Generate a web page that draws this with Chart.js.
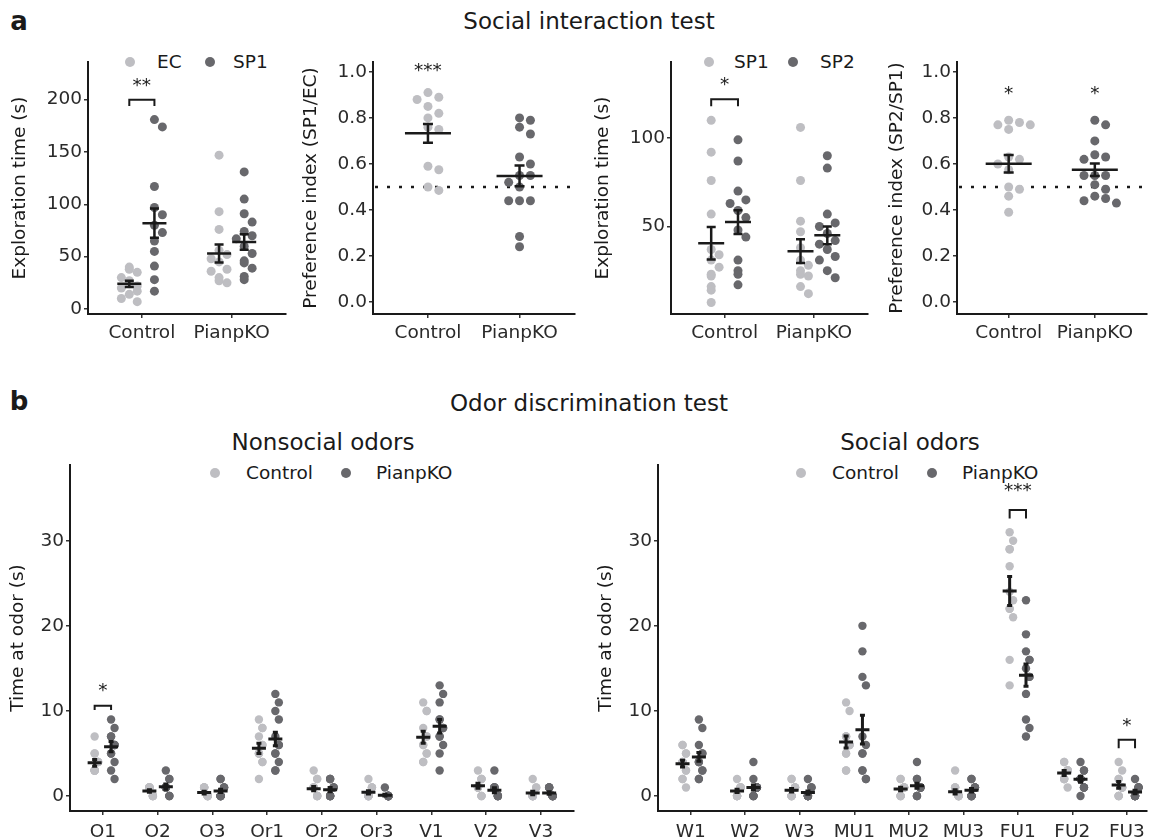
<!DOCTYPE html>
<html><head><meta charset="utf-8">
<script src="https://cdn.jsdelivr.net/npm/chart.js@4.4.1/dist/chart.umd.min.js"></script>
<style>
body{margin:0;background:#fff;width:1151px;height:837px;position:relative;overflow:hidden;font-family:'DejaVu Sans',sans-serif;color:#1a1a1a}
canvas{position:absolute}
.t{position:absolute;white-space:nowrap;transform:translate(-50%,-50%);line-height:1}
.lt{position:absolute;white-space:nowrap;transform:translateY(-50%);font-size:18.5px;line-height:1;color:#1a1a1a}
.dot{position:absolute;width:10px;height:10px;border-radius:50%;transform:translate(-50%,-50%)}
</style></head><body>
<div class="t" style="left:19px;top:21px;font-weight:bold;font-size:26px">a</div>
<div class="t" style="left:589px;top:21px;font-size:23px">Social interaction test</div>
<div class="t" style="left:19px;top:401px;font-weight:bold;font-size:26px">b</div>
<div class="t" style="left:589px;top:403px;font-size:23px">Odor discrimination test</div>
<div class="t" style="left:323px;top:442px;font-size:23px">Nonsocial odors</div>
<div class="t" style="left:910px;top:442px;font-size:23px">Social odors</div>

<div class="dot" style="left:130px;top:62px;background:#bebec2"></div><div class="lt" style="left:157px;top:62px">EC</div>
<div class="dot" style="left:210px;top:62px;background:#68686c"></div><div class="lt" style="left:233px;top:62px">SP1</div>
<div class="dot" style="left:709px;top:62px;background:#bebec2"></div><div class="lt" style="left:734px;top:62px">SP1</div>
<div class="dot" style="left:793px;top:62px;background:#68686c"></div><div class="lt" style="left:820px;top:62px">SP2</div>
<div class="dot" style="left:215px;top:473px;background:#bebec2"></div><div class="lt" style="left:246px;top:473px">Control</div>
<div class="dot" style="left:346px;top:473px;background:#68686c"></div><div class="lt" style="left:376px;top:473px">PianpKO</div>
<div class="dot" style="left:801px;top:473px;background:#bebec2"></div><div class="lt" style="left:832px;top:473px">Control</div>
<div class="dot" style="left:932px;top:473px;background:#68686c"></div><div class="lt" style="left:962px;top:473px">PianpKO</div>

<canvas id="a1"></canvas><canvas id="a2"></canvas><canvas id="a3"></canvas><canvas id="a4"></canvas>
<canvas id="b1"></canvas><canvas id="b2"></canvas>
<script>
// ---------- DATA ----------
const groupsA = ['Control', 'PianpKO'];
// a1: exploration time EC vs SP1
const a1_EC_Control  = [40, 38, 35, 30, 27, 24, 22, 20, 17, 14, 10, 7];
const a1_EC_PianpKO  = [147, 93, 76, 56, 52, 48, 45, 38, 36, 30, 27, 25];
const a1_SP1_Control = [181, 174, 117, 97, 90, 80, 73, 65, 55, 41, 28, 17];
const a1_SP1_PianpKO = [131, 105, 91, 83, 74, 70, 67, 60, 53, 46, 44, 39, 31, 28];
const a1_EC_mean = [24, 53],  a1_EC_sem = [3, 8.5];
const a1_SP1_mean = [82, 64], a1_SP1_sem = [14, 7.5];
const a1_yTicks = [0, 50, 100, 150, 200];
const a1_signif = [{cat: 1, label: '**', y: 216, bracket: [200, 194]}];
// a2: preference index SP1/EC
const a2_Control = [0.91, 0.89, 0.88, 0.85, 0.82, 0.80, 0.76, 0.75, 0.59, 0.575, 0.50, 0.485];
const a2_PianpKO = [0.80, 0.79, 0.76, 0.73, 0.63, 0.60, 0.55, 0.55, 0.52, 0.50, 0.44, 0.44, 0.44, 0.285, 0.24];
const a2_mean = [0.733, 0.548], a2_sem = [0.041, 0.045];
const prefTicks = [0, 0.2, 0.4, 0.6, 0.8, 1.0];
const a2_signif = [{cat: 1, label: '***', y: 1.02}];
// a3: exploration time SP1 vs SP2
const a3_SP1_Control = [110, 92, 76, 57, 37, 34, 31, 27, 23, 22, 16, 14, 7];
const a3_SP2_Control = [99, 87, 70, 65, 63, 59, 55, 48, 44, 31, 25, 23, 17];
const a3_SP1_PianpKO = [106, 76, 53, 47, 38, 31, 28, 25, 23, 22, 16, 12];
const a3_SP2_PianpKO = [90, 83, 57, 52, 50, 46, 42, 40, 37, 33, 31, 25, 21];
const a3_SP1_mean = [40.5, 36], a3_SP1_sem = [9.2, 6.7];
const a3_SP2_mean = [52.5, 45], a3_SP2_sem = [6.7, 5];
const a3_yTicks = [50, 100];
const a3_signif = [{cat: 1, label: '*', y: 132, bracket: [122, 118]}];
// a4: preference index SP2/SP1
const a4_Control = [0.79, 0.78, 0.77, 0.77, 0.75, 0.63, 0.62, 0.60, 0.575, 0.50, 0.49, 0.46, 0.39];
const a4_PianpKO = [0.79, 0.77, 0.70, 0.64, 0.63, 0.62, 0.55, 0.55, 0.55, 0.51, 0.49, 0.46, 0.45, 0.44, 0.43];
const a4_mean = [0.601, 0.575], a4_sem = [0.038, 0.027];
const a4_signif = [{cat: 1, label: '*', y: 0.917}, {cat: 2, label: '*', y: 0.917}];
// b1: nonsocial odors
const b1_odors = ['O1', 'O2', 'O3', 'Or1', 'Or2', 'Or3', 'V1', 'V2', 'V3'];
const b1_Control = [
  [7,5,5,4,4,4,3,3,3,3,3,3], [1,1,1,1,1,1,1,0,0,0,0,0], [1,1,1,1,1,0,0,0,0,0,0,0],
  [9,8,8,7,6,6,5,5,5,4,4,2], [3,2,2,1,1,1,1,0,0,0,0,0], [2,1,1,1,0,0,0,0,0,0,0,0],
  [11,10,10,8,7,7,6,6,5,5,4,4], [3,2,2,2,1,1,1,1,1,0,0,0], [2,1,1,0,0,0,0,0,0,0,0,0]];
const b1_PianpKO = [
  [9,8,7,7,6,6,6,5,5,4,3,2], [3,2,2,1,1,1,1,1,1,0,0,0], [2,2,1,1,1,0,0,0,0,0,0,0],
  [12,11,10,9,7,6,6,5,5,4,3,3], [2,2,2,1,1,1,0,0,0,0,0,0], [1,0,0,0,0,0,0,0,0,0,0,0],
  [13,12,11,9,9,8,8,7,7,6,5,3], [3,1,1,1,1,1,0,0,0,0,0,0], [1,1,1,1,0,0,0,0,0,0,0,0]];
const b1_Control_mean = [3.9, 0.6, 0.4, 5.6, 0.86, 0.43, 6.9, 1.2, 0.35];
const b1_Control_sem  = [0.4, 0.15, 0.15, 0.6, 0.25, 0.2, 0.7, 0.3, 0.2];
const b1_PianpKO_mean = [5.8, 1.1, 0.6, 6.7, 0.75, 0.1, 8.2, 0.67, 0.35];
const b1_PianpKO_sem  = [0.6, 0.3, 0.2, 0.8, 0.25, 0.1, 0.8, 0.3, 0.15];
const b1_signif = [{cat: 1, label: '*', y: 12.7, bracket: [10.6, 10.1]}];
// b2: social odors
const b2_odors = ['W1', 'W2', 'W3', 'MU1', 'MU2', 'MU3', 'FU1', 'FU2', 'FU3'];
const b2_Control = [
  [6,6,5,5,4,4,4,3,3,2,2,1], [2,1,1,1,1,1,0,0,0,0,0,0], [2,2,1,1,1,1,0,0,0,0,0,0],
  [11,10,7,7,7,6,6,6,5,5,3,3], [2,2,1,1,1,1,1,1,0,0,0,0], [3,1,1,1,0,0,0,0,0,0,0,0],
  [31,30,29,29,27,24,23,22,22,21,16,13], [4,4,3,3,3,3,3,2,2,2,2,1], [4,3,2,2,1,1,1,1,0,0,0,0]];
const b2_PianpKO = [
  [9,8,6,5,5,4,4,4,3,3,2,2], [4,2,1,1,1,1,1,1,0,0,0,0], [2,1,1,1,0,0,0,0,0,0,0,0],
  [20,17,14,13,7,6,5,5,3,3,2,2], [4,2,2,1,1,1,1,1,1,0,0,0], [2,2,1,1,1,1,0,0,0,0,0,0],
  [23,19,17,16,16,15,14,14,12,9,8,7], [4,3,3,2,2,2,2,2,1,1,1,0], [2,1,1,1,1,0,0,0,0,0,0,0]];
const b2_Control_mean = [3.8, 0.6, 0.67, 6.35, 0.82, 0.5, 24.1, 2.7, 1.3];
const b2_Control_sem  = [0.4, 0.2, 0.2, 0.7, 0.2, 0.25, 1.7, 0.3, 0.4];
const b2_PianpKO_mean = [4.6, 1.0, 0.4, 7.8, 1.2, 0.67, 14.2, 1.96, 0.47];
const b2_PianpKO_sem  = [0.5, 0.3, 0.2, 1.7, 0.3, 0.2, 1.3, 0.35, 0.2];
const b2_signif = [{cat: 7, label: '***', y: 36.2, bracket: [33.6, 32.6]}, {cat: 9, label: '*', y: 8.6, bracket: [6.6, 5.6]}];
const bTicks = [0, 10, 20, 30];

// ---------- STYLE ----------
const LIGHT = '#bebec2', DARK = '#68686c', INK = '#1a1a1a';
Chart.defaults.font.family = "'DejaVu Sans'";
Chart.defaults.font.size = 18.5;
Chart.defaults.color = '#2a2a2a';

function swarm(vals, pxY, step, D, maxK) {
  const idx = vals.map((v, i) => i).sort((a, b) => vals[b] - vals[a]);
  const placed = [], off = new Array(vals.length).fill(0);
  const order = [0]; for (let k = 1; k <= maxK; k++) order.push(k, -k);
  for (const i of idx) {
    const y = vals[i] * pxY;
    let best = 0, bestC = Infinity;
    for (const k of order) {
      let c = 0;
      for (const p of placed) { const dx = (k - p.k) * step, dy = y - p.y; if (dx * dx + dy * dy < D * D) c++; }
      if (c === 0) { best = k; bestC = 0; break; }
      if (c < bestC) { bestC = c; best = k; }
    }
    placed.push({k: best, y}); off[i] = best * step;
  }
  return off;
}

function overlay(p) {
  return {
    id: 'ov',
    beforeDatasetsDraw(chart) {
      if (p.refLine == null) return;
      const {ctx, chartArea: a, scales: {y}} = chart;
      const py = y.getPixelForValue(p.refLine);
      ctx.save(); ctx.strokeStyle = INK; ctx.lineWidth = 2.5; ctx.setLineDash([3, 9]);
      ctx.beginPath(); ctx.moveTo(a.left + 2, py); ctx.lineTo(a.right, py); ctx.stroke(); ctx.restore();
    },
    afterDatasetsDraw(chart) {
      const {ctx, scales: {x, y}} = chart;
      ctx.save(); ctx.strokeStyle = INK; ctx.lineWidth = p.lw;
      p.groups.forEach(g => {
        g.mean.forEach((m, i) => {
          if (m == null) return;
          const cx = x.getPixelForValue(i + 1 + g.dodge);
          const pm = y.getPixelForValue(m), lo = y.getPixelForValue(m - g.sem[i]), hi = y.getPixelForValue(m + g.sem[i]);
          ctx.beginPath();
          ctx.moveTo(cx - p.meanHalf, pm); ctx.lineTo(cx + p.meanHalf, pm);
          ctx.moveTo(cx, lo); ctx.lineTo(cx, hi);
          ctx.moveTo(cx - p.capHalf, lo); ctx.lineTo(cx + p.capHalf, lo);
          ctx.moveTo(cx - p.capHalf, hi); ctx.lineTo(cx + p.capHalf, hi);
          ctx.stroke();
        });
      });
      ctx.lineWidth = 2; ctx.fillStyle = INK; ctx.font = "18.5px 'DejaVu Sans'"; ctx.textAlign = 'center'; ctx.textBaseline = 'alphabetic';
      p.signif.forEach(s => {
        const cx = x.getPixelForValue(s.cat);
        if (s.bracket) {
          const xl = x.getPixelForValue(s.cat - p.dodge), xr = x.getPixelForValue(s.cat + p.dodge);
          const t = y.getPixelForValue(s.bracket[0]), b = y.getPixelForValue(s.bracket[1]);
          ctx.beginPath(); ctx.moveTo(xl, b); ctx.lineTo(xl, t); ctx.lineTo(xr, t); ctx.lineTo(xr, b); ctx.stroke();
        }
        const mt = ctx.measureText(s.label);
        const py = y.getPixelForValue(s.y);
        ctx.fillText(s.label, cx, py + (mt.actualBoundingBoxAscent - mt.actualBoundingBoxDescent) / 2);
      });
      ctx.restore();
    }
  };
}

function panel(c) {
  const cv = document.getElementById(c.id);
  cv.width = c.box.width; cv.height = c.box.height;
  cv.style.left = c.box.left + 'px'; cv.style.top = c.box.top + 'px';
  cv.style.width = c.box.width + 'px'; cv.style.height = c.box.height + 'px';
  const a = c.area;
  const pxY = (a.b - a.t) / (c.yMax - c.yMin);
  const pxX = (a.r - a.l) / (c.xMax - 0.4);
  const datasets = c.groups.map(g => {
    const pts = [];
    g.values.forEach((vals, i) => {
      const off = swarm(vals, pxY, c.swarm.step, c.swarm.D, c.swarm.maxK);
      vals.forEach((v, j) => pts.push({x: i + 1 + g.dodge + off[j] / pxX, y: v}));
    });
    return {data: pts, backgroundColor: g.color, borderWidth: 0, pointRadius: c.radius, pointHoverRadius: c.radius};
  });
  const gridOpt = {display: true, drawOnChartArea: false, drawTicks: true, tickLength: 4, color: '#333', lineWidth: 1.5};
  const borderOpt = {display: true, color: INK, width: 2};
  new Chart(cv, {
    type: 'scatter',
    data: {datasets},
    options: {
      animation: false, responsive: false, devicePixelRatio: 1,
      events: [],
      layout: {padding: {left: 0, top: a.t - c.box.top, right: c.box.left + c.box.width - a.r, bottom: 0}},
      plugins: {legend: {display: false}, tooltip: {enabled: false}},
      scales: {
        x: {
          type: 'linear', min: 0.4, max: c.xMax,
          afterBuildTicks: s => { s.ticks = c.cats.map((_, i) => ({value: i + 1})); },
          afterFit: s => { s.height = c.box.top + c.box.height - a.b; },
          ticks: {autoSkip: false, maxRotation: 0, minRotation: 0, padding: c.xPad, callback: v => c.cats[Math.round(v) - 1]},
          grid: gridOpt, border: borderOpt
        },
        y: {
          type: 'linear', min: c.yMin, max: c.yMax,
          afterBuildTicks: s => { s.ticks = c.yTicks.map(v => ({value: v})); },
          afterFit: s => { s.width = a.l - c.box.left; },
          ticks: {padding: 2, callback: c.yFmt},
          grid: gridOpt, border: borderOpt,
          title: {display: true, text: c.yTitle, color: INK, padding: {top: c.titlePad, bottom: 0}, font: {size: 18.5}}
        }
      }
    },
    plugins: [overlay({groups: c.groups, meanHalf: c.meanHalf, capHalf: c.capHalf, lw: c.lw, dodge: c.dodge, signif: c.signif, refLine: c.refLine})]
  });
}

const intFmt = v => String(v);
const decFmt = v => v.toFixed(1);

panel({id: 'a1', box: {left: 0, top: 48, width: 290, height: 300}, area: {l: 88, t: 62, r: 287, b: 314},
  cats: groupsA, xMax: 2.6, xPad: 4, yMin: -4.8, yMax: 236, yTicks: a1_yTicks, yFmt: intFmt,
  yTitle: 'Exploration time (s)', titlePad: 9, radius: 4.5, swarm: {step: 8, D: 9, maxK: 1},
  meanHalf: 12, capHalf: 4.5, lw: 2.5, dodge: 0.14, signif: a1_signif,
  groups: [
    {color: LIGHT, dodge: -0.14, values: [a1_EC_Control, a1_EC_PianpKO], mean: a1_EC_mean, sem: a1_EC_sem},
    {color: DARK, dodge: 0.14, values: [a1_SP1_Control, a1_SP1_PianpKO], mean: a1_SP1_mean, sem: a1_SP1_sem}]});

panel({id: 'a2', box: {left: 290, top: 48, width: 289, height: 300}, area: {l: 373, t: 62, r: 577, b: 314},
  cats: groupsA, xMax: 2.6, xPad: 4, yMin: -0.052, yMax: 1.043, yTicks: prefTicks, yFmt: decFmt,
  yTitle: 'Preference index (SP1/EC)', titlePad: 10, radius: 4.5, swarm: {step: 11, D: 9, maxK: 2},
  meanHalf: 23, capHalf: 5, lw: 2.5, dodge: 0, signif: a2_signif, refLine: 0.5,
  groups: [
    {color: LIGHT, dodge: 0, values: [a2_Control, []], mean: [a2_mean[0], null], sem: [a2_sem[0], 0]},
    {color: DARK, dodge: 0, values: [[], a2_PianpKO], mean: [null, a2_mean[1]], sem: [0, a2_sem[1]]}]});

panel({id: 'a3', box: {left: 580, top: 48, width: 292, height: 300}, area: {l: 671, t: 62, r: 870, b: 314},
  cats: groupsA, xMax: 2.6, xPad: 4, yMin: 0.5, yMax: 143, yTicks: a3_yTicks, yFmt: intFmt,
  yTitle: 'Exploration time (s)', titlePad: 12, radius: 4.5, swarm: {step: 8, D: 9, maxK: 1},
  meanHalf: 13, capHalf: 4.5, lw: 2.5, dodge: 0.15, signif: a3_signif,
  groups: [
    {color: LIGHT, dodge: -0.15, values: [a3_SP1_Control, a3_SP1_PianpKO], mean: a3_SP1_mean, sem: a3_SP1_sem},
    {color: DARK, dodge: 0.15, values: [a3_SP2_Control, a3_SP2_PianpKO], mean: a3_SP2_mean, sem: a3_SP2_sem}]});

panel({id: 'a4', box: {left: 872, top: 48, width: 279, height: 300}, area: {l: 957, t: 62, r: 1150, b: 314},
  cats: groupsA, xMax: 2.6, xPad: 4, yMin: -0.052, yMax: 1.043, yTicks: prefTicks, yFmt: decFmt,
  yTitle: 'Preference index (SP2/SP1)', titlePad: 14, radius: 4.5, swarm: {step: 11, D: 9, maxK: 2},
  meanHalf: 23, capHalf: 5, lw: 2.5, dodge: 0, signif: a4_signif, refLine: 0.5,
  groups: [
    {color: LIGHT, dodge: 0, values: [a4_Control, []], mean: [a4_mean[0], null], sem: [a4_sem[0], 0]},
    {color: DARK, dodge: 0, values: [[], a4_PianpKO], mean: [null, a4_mean[1]], sem: [0, a4_sem[1]]}]});

panel({id: 'b1', box: {left: 0, top: 448, width: 578, height: 389}, area: {l: 70, t: 465, r: 575, b: 811},
  cats: b1_odors, xMax: 9.6, xPad: 6, yMin: -1.76, yMax: 38.9, yTicks: bTicks, yFmt: intFmt,
  yTitle: 'Time at odor (s)', titlePad: 7, radius: 4.2, swarm: {step: 3.5, D: 9, maxK: 1},
  meanHalf: 7, capHalf: 2.5, lw: 3, dodge: 0.15, signif: b1_signif,
  groups: [
    {color: LIGHT, dodge: -0.15, values: b1_Control, mean: b1_Control_mean, sem: b1_Control_sem},
    {color: DARK, dodge: 0.15, values: b1_PianpKO, mean: b1_PianpKO_mean, sem: b1_PianpKO_sem}]});

panel({id: 'b2', box: {left: 580, top: 448, width: 571, height: 389}, area: {l: 658, t: 465, r: 1150, b: 811},
  cats: b2_odors, xMax: 9.36, xPad: 6, yMin: -1.76, yMax: 38.9, yTicks: bTicks, yFmt: intFmt,
  yTitle: 'Time at odor (s)', titlePad: 15, radius: 4.2, swarm: {step: 3.5, D: 9, maxK: 1},
  meanHalf: 7, capHalf: 2.5, lw: 3, dodge: 0.15, signif: b2_signif,
  groups: [
    {color: LIGHT, dodge: -0.15, values: b2_Control, mean: b2_Control_mean, sem: b2_Control_sem},
    {color: DARK, dodge: 0.15, values: b2_PianpKO, mean: b2_PianpKO_mean, sem: b2_PianpKO_sem}]});
</script>
</body></html>
